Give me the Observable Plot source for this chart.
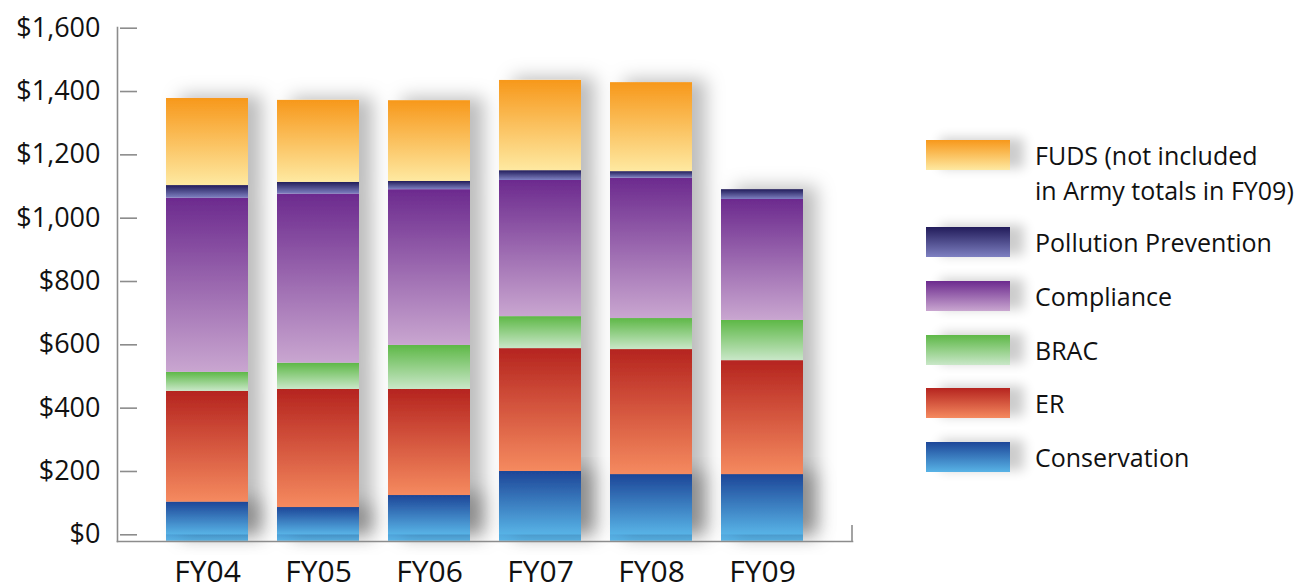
<!DOCTYPE html>
<html><head><meta charset="utf-8">
<script src="https://cdn.jsdelivr.net/npm/d3@7"></script>
<script src="https://cdn.jsdelivr.net/npm/@observablehq/plot@0.6"></script>
<style>
body{margin:0;background:#fff;font-family:"Open Sans",sans-serif;}
#wrap{position:relative;width:1310px;height:587px;overflow:hidden;background:#fff;}
#legend{position:absolute;left:0;top:0;}
.sw{position:absolute;left:926px;width:84px;height:30px;box-shadow:14px -2px 12px rgba(0,0,0,0.2);}
.lt{position:absolute;left:1035px;font-size:25px;line-height:35px;color:#111;white-space:pre;}
</style></head><body><div id="wrap"></div>
<script>
const years = ["FY04","FY05","FY06","FY07","FY08","FY09"];
const categories = ["Conservation","ER","BRAC","Compliance","Pollution Prevention","FUDS"];
const conservation = [103, 86, 124, 200, 190, 190];
const er = [350, 373, 335, 388, 395, 360];
const brac = [60, 83, 139, 101, 98, 127];
const compliance = [550, 534, 492, 430, 443, 382];
const pollutionPrevention = [40, 37, 26, 31, 21, 31];
const fuds = [275, 259, 255, 285, 281, 0];
const yTicks = [0, 200, 400, 600, 800, 1000, 1200, 1400, 1600];
const legendLabels = ["FUDS (not included\nin Army totals in FY09)", "Pollution Prevention", "Compliance", "BRAC", "ER", "Conservation"];
const legendKeys = ["FUDS", "Pollution Prevention", "Compliance", "BRAC", "ER", "Conservation"];
const gradients = {
  "Conservation": ["#1d4698", "#58b3e6"],
  "ER": ["#b5241f", "#f58a5f"],
  "BRAC": ["#5eb847", "#c9e7c8"],
  "Compliance": ["#6c2a8e", "#c9a6d0"],
  "Pollution Prevention": ["#221c5a", "#7e80c1"],
  "FUDS": ["#f7981b", "#fee9a1"]
};
const gid = c => "grad-" + c.replace(/\s+/g, "-");

const seriesByCat = {
  "Conservation": conservation, "ER": er, "BRAC": brac,
  "Compliance": compliance, "Pollution Prevention": pollutionPrevention, "FUDS": fuds
};
const rows = [];
categories.forEach(c => years.forEach((y, i) => rows.push({year: y, category: c, value: seriesByCat[c][i]})));
const consRows = years.map((y, i) => ({year: y, category: "Conservation", value: conservation[i]}));

const W = 900, H = 587;
const mL = 117, mR = 48, mT = 27, mB = 46;
const fmt = d => "$" + d3.format(",")(d);

const chart = Plot.plot({
  width: W, height: H,
  marginLeft: mL, marginRight: mR, marginTop: mT, marginBottom: mB,
  style: {fontFamily: "'Open Sans', sans-serif", background: "#fff", color: "#111", overflow: "visible"},
  x: {domain: years, range: [149.6, 819.8], paddingInner: 0.257, paddingOuter: 0.1285, label: null},
  y: {domain: [0, 1600], range: [534.3, 27.7], label: null},
  color: {type: "identity"},
  marks: [
    Plot.barY(consRows, {x: "year", y: "value", fill: d => `url(#${gid(d.category)})`, insetBottom: -6.5, ariaLabel: "shadowbar"}),
    Plot.barY(rows, Plot.stackY({x: "year", y: "value", z: "category", order: categories,
      fill: d => `url(#${gid(d.category)})`})),
    Plot.frame({anchor: "left", stroke: "#8c8c8c", strokeWidth: 1.6}),
    Plot.frame({anchor: "bottom", stroke: "#8c8c8c", strokeWidth: 1.6}),
    Plot.axisY(yTicks, {tickSize: -17, tickFormat: null, stroke: "#8c8c8c", strokeWidth: 1.6, dx: 3, text: null}),
    Plot.axisY(yTicks, {tickSize: 0, tickPadding: 17, tickFormat: fmt, fontSize: 27, fill: "#111"}),
    Plot.axisX({tickSize: 0, tickPadding: 19, fontSize: 30, fill: "#111"})
  ]
});

const svg = d3.select(chart);
const defs = svg.insert("defs", ":first-child");
Object.entries(gradients).forEach(([c, [top, bot]]) => {
  const g = defs.append("linearGradient").attr("id", gid(c)).attr("x1", 0).attr("y1", 0).attr("x2", 0).attr("y2", 1);
  g.append("stop").attr("offset", "0%").attr("stop-color", top);
  g.append("stop").attr("offset", "100%").attr("stop-color", bot);
});
const f = defs.append("filter").attr("id", "shadow").attr("x", "-20%").attr("y", "-20%").attr("width", "160%").attr("height", "140%");
f.append("feDropShadow").attr("dx", 14).attr("dy", -3).attr("stdDeviation", 9).attr("flood-color", "#000").attr("flood-opacity", 0.26);
svg.selectAll("g[aria-label='bar'], g[aria-label='shadowbar']").attr("filter", "url(#shadow)");
// right end tick of the x axis baseline
const xr = W - mR;
svg.append("line").attr("x1", xr).attr("x2", xr).attr("y1", H - mB - 16).attr("y2", H - mB).attr("stroke", "#8c8c8c").attr("stroke-width", 1.6);

const wrap = document.getElementById("wrap");
wrap.appendChild(chart);
chart.style.position = "absolute"; chart.style.left = "0"; chart.style.top = "0";

const legendTops = [140, 227, 281, 335, 388, 442];
const legend = document.createElement("div");
legend.id = "legend";
legendKeys.forEach((k, i) => {
  const [top, bot] = gradients[k];
  const sw = document.createElement("div");
  sw.className = "sw";
  sw.style.top = legendTops[i] + "px";
  sw.style.background = `linear-gradient(${top}, ${bot})`;
  legend.appendChild(sw);
  const t = document.createElement("div");
  t.className = "lt";
  t.textContent = legendLabels[i];
  t.style.top = (legendTops[i] - 2) + "px";
  legend.appendChild(t);
});
wrap.appendChild(legend);
</script></body></html>
